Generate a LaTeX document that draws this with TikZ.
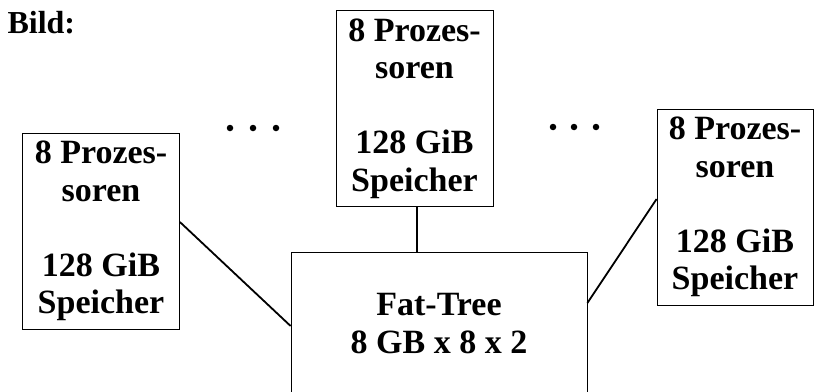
\documentclass[tikz,border=0pt]{standalone}
\usepackage{fontspec}
\setmainfont{Liberation Serif}
\begin{document}
\begin{tikzpicture}[x=1pt,y=-1pt,
  box/.style={draw,line width=0.8pt,inner sep=0pt,align=center,
    node font=\fontsize{34}{37.5}\selectfont\bfseries},
  pbox/.style={box,minimum width=157pt,minimum height=196pt},
  link/.style={line width=1.8pt},
  dot/.style={circle,fill,inner sep=0pt,minimum size=6.5pt}]
\useasboundingbox (0,0) rectangle (814,391);
\clip (0,0) rectangle (814,391);
\node[anchor=base west,font=\fontsize{32}{36}\selectfont\bfseries] (title) at (4,33) {Bild:};
\node[pbox] (L) at (101,231) {8 Prozes-\\soren\\[37.5pt]128 GiB\\Speicher};
\node[pbox] (M) at (414.5,108.5) {8 Prozes-\\soren\\[37.5pt]128 GiB\\Speicher};
\node[pbox,minimum width=156pt] (R) at (735,207) {8 Prozes-\\soren\\[37.5pt]128 GiB\\Speicher};
\node[box,minimum width=296pt,minimum height=143pt] (F) at (439,323.5) {Fat-Tree\\8 GB x 8 x 2};
\node[dot] (d1) at (230,128) {};
\node[dot] (d2) at (253,128) {};
\node[dot] (d3) at (276,128) {};
\node[dot] (d4) at (553,127) {};
\node[dot] (d5) at (574,127) {};
\node[dot] (d6) at (596,127) {};
\draw[link] ([yshift=9pt]L.east) -- ([yshift=-2.5pt]F.west);
\draw[link] ([xshift=2.5pt]M.south) -- ([xshift=2.5pt]M.south |- F.north);
\draw[link] ([yshift=20.5pt]F.east) -- ([yshift=8pt]R.west);
\end{tikzpicture}
\end{document}
